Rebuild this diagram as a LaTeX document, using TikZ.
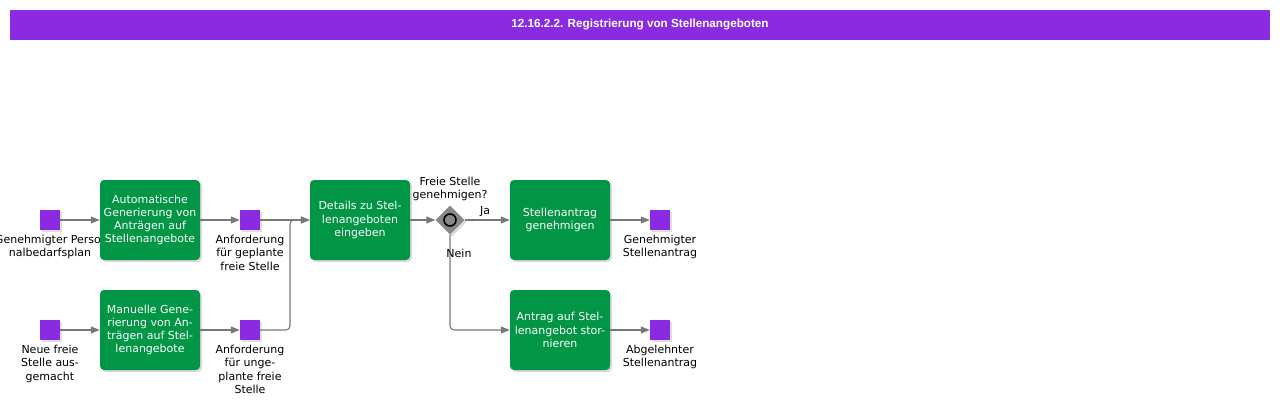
\documentclass[tikz,border=0pt]{standalone}
\usepackage{fontspec}
\setmainfont{DejaVu Sans}
\newfontfamily\titlefont{Liberation Sans}
\usetikzlibrary{shapes.geometric,shadows,arrows.meta}
\definecolor{bpurple}{RGB}{138,43,226}
\definecolor{bgreen}{RGB}{0,150,70}
\definecolor{flowgray}{RGB}{120,120,120}
\definecolor{gwgray}{RGB}{136,136,136}
\begin{document}
\begin{tikzpicture}[x=1pt, y=-1pt,
  txt/.style={font=\fontsize{11}{13.3}\selectfont, align=center, inner sep=0pt},
  task/.style={txt, shape=rectangle, rounded corners=4pt, fill=bgreen, text=white, minimum width=100pt, minimum height=80pt, drop shadow={shadow xshift=2pt, shadow yshift=-2pt, opacity=0.3}},
  event/.style={shape=rectangle, fill=bpurple, minimum size=20pt, inner sep=0pt, drop shadow={shadow xshift=1.5pt, shadow yshift=-1.5pt, opacity=0.25}},
  elabel/.style={txt, anchor=north},
  flow/.style={draw=flowgray, line width=1.1pt, -{Triangle[length=9pt, width=7pt]}}]
\clip (0,0) rectangle (1280,409);
\useasboundingbox (0,0) rectangle (1280,409);
\node[shape=rectangle, fill=bpurple, text=white, minimum width=1260pt, minimum height=30pt, inner sep=0pt, font=\titlefont\bfseries\fontsize{11.7}{14}\selectfont] (title) at (640,25) {12.16.2.2. Registrierung von Stellenangeboten};
% Ereignisse
\node[event] (E1) at (50,220) {};
\node[event] (E2) at (250,220) {};
\node[event] (E3) at (50,330) {};
\node[event] (E4) at (250,330) {};
\node[event] (E5) at (660,220) {};
\node[event] (E6) at (660,330) {};
\node[elabel] (L1) at (50,235) {Genehmigter Perso-\\nalbedarfsplan};
\node[elabel] (L2) at (250,235) {Anforderung\\für geplante\\freie Stelle};
\node[elabel] (L3) at (50,345) {Neue freie\\Stelle aus-\\gemacht};
\node[elabel] (L4) at (250,345) {Anforderung\\für unge-\\plante freie\\Stelle};
\node[elabel] (L5) at (660,235) {Genehmigter\\Stellenantrag};
\node[elabel] (L6) at (660,345) {Abgelehnter\\Stellenantrag};
% Funktionen
\node[task] (T1) at (150,220) {Automatische\\Generierung von\\Anträgen auf\\Stellenangebote};
\node[task] (T2) at (150,330) {Manuelle Gene-\\rierung von An-\\trägen auf Stel-\\lenangebote};
\node[task] (T3) at (360,220) {Details zu Stel-\\lenangeboten\\eingeben};
\node[task] (T4) at (560,220) {Stellenantrag\\genehmigen};
\node[task] (T5) at (560,330) {Antrag auf Stel-\\lenangebot stor-\\nieren};
% Gateway
\node[shape=diamond, fill=gwgray, minimum width=29pt, minimum height=29pt, inner sep=0pt, drop shadow={shadow xshift=2pt, shadow yshift=-2pt, opacity=0.3}] (G) at (450,220) {};
\node[shape=circle, draw=black, line width=1.6pt, minimum size=12pt, inner sep=0pt] (Gc) at (G) {};
\node[txt] (Gq) at (450,189) {Freie Stelle\\genehmigen?};
\coordinate (J) at (290,220);
% Kanten
\path[flow] (E1) -- (T1);
\path[flow] (T1) -- (E2);
\path[flow] (E3) -- (T2);
\path[flow] (T2) -- (E4);
\path[flow] (E2) -- (T3);
\path[flow, rounded corners=4pt] (E4.east) -| (J) -- (T3.west);
\path[flow] (T3) -- (G);
\path[flow] (G) -- node[txt, pos=0.45, above=3pt] {Ja} (T4);
\path[flow, rounded corners=4pt] (G.south) |- (T5.west);
\node[txt] (N) at (459,253) {Nein};
\path[flow] (T4) -- (E5);
\path[flow] (T5) -- (E6);
\end{tikzpicture}
\end{document}
